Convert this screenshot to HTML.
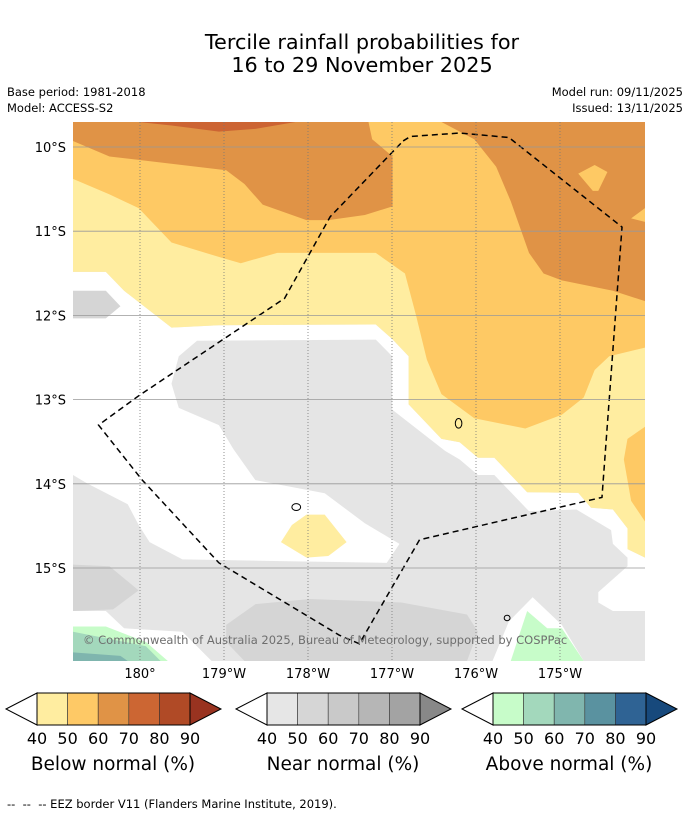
<!DOCTYPE html>
<html><head><meta charset="utf-8">
<style>
body{margin:0;background:#fff;font-family:"DejaVu Sans","Liberation Sans",sans-serif;}
#root{position:relative;width:690px;height:816px;overflow:hidden;}
.t{position:absolute;white-space:nowrap;color:#000;}
</style></head>
<body>
<div id="root">
<div class="t" style="left:0;width:724px;top:31px;text-align:center;font-size:20.8px;line-height:23px;">Tercile rainfall probabilities for<br>16 to 29 November 2025</div>
<div class="t" style="left:7px;top:85px;font-size:11.5px;">Base period: 1981-2018</div>
<div class="t" style="left:7px;top:101px;font-size:11.5px;">Model: ACCESS-S2</div>
<div class="t" style="right:7px;top:85px;font-size:11.5px;">Model run: 09/11/2025</div>
<div class="t" style="right:7px;top:101px;font-size:11.5px;">Issued: 13/11/2025</div>

<svg style="position:absolute;left:73px;top:122px;" width="572" height="539" viewBox="0 0 1568 1565" preserveAspectRatio="none">
<rect x="0" y="0" width="1568" height="1565" fill="#e5e5e5"/>
<polygon fill="#fff" points="0,435 90,435 140,490 270,597 400,590 830,588 875,630 920,680 920,820 1010,920 1060,930 1110,975 1155,975 1245,1075 1385,1077 1420,1120 1480,1125 1520,1180 1520,1240 1568,1265 1568,1420 1480,1420 1440,1395 1440,1365 1520,1290 1520,1265 1480,1225 1475,1185 1380,1125 1250,1130 1155,1025 1110,1025 1060,980 1020,955 875,835 875,680 830,632 340,635 290,680 270,760 290,830 400,880 440,950 500,1040 690,1078 800,1165 895,1225 860,1280 570,1275 300,1270 210,1220 180,1170 150,1110 40,1050 0,1025"/>
<polygon fill="#ffeda0" points="0,0 1568,0 1568,1265 1520,1240 1520,1180 1480,1125 1420,1120 1385,1077 1245,1075 1155,975 1110,975 1060,930 1010,920 920,820 920,680 875,630 830,588 400,590 270,597 140,490 90,435 0,435"/>
<polygon fill="#d5d5d5" points="0,490 90,490 130,535 90,570 0,570"/>
<polygon fill="#d5d5d5" points="0,1285 100,1290 180,1360 110,1415 0,1420"/>
<polygon fill="#d5d5d5" points="420,1460 500,1400 650,1385 900,1395 1080,1430 1110,1480 1080,1565 470,1565 420,1510"/>
<polygon fill="#fff" points="0,1420 90,1420 140,1470 300,1480 380,1565 0,1565"/>
<polygon fill="#c7fcc9" points="0,1465 90,1465 200,1510 260,1565 0,1565"/>
<polygon fill="#a3d8bc" points="0,1480 200,1522 240,1565 0,1565"/>
<polygon fill="#7fb5ae" points="0,1540 130,1550 150,1565 0,1565"/>
<polygon fill="#fff" points="1150,1565 1195,1450 1260,1380 1340,1460 1400,1565"/>
<polygon fill="#c7fcc9" points="1200,1565 1245,1420 1300,1470 1340,1470 1400,1565"/>
<polygon fill="#ffeda0" points="570,1220 600,1170 640,1140 690,1140 750,1220 700,1260 640,1265"/>
<polygon fill="#fec964" points="0,0 1568,0 1568,655 1470,680 1430,720 1400,800 1340,850 1240,890 1100,860 1010,790 970,690 940,560 910,440 830,380 560,380 460,410 410,395 270,350 180,250 100,210 0,165"/>
<polygon fill="#fec964" points="1568,885 1520,920 1510,980 1530,1100 1568,1160"/>
<polygon fill="#e09346" points="0,0 810,0 820,50 876,100 876,245 800,270 700,285 640,285 520,240 470,180 420,140 180,110 100,100 0,55"/>
<polygon fill="#e09346" points="1010,0 1568,0 1568,250 1530,280 1568,290 1568,520 1480,490 1340,460 1290,440 1250,380 1230,320 1200,230 1160,130 1100,50"/>
<polygon fill="#fec964" points="1385,150 1430,125 1465,145 1440,200 1425,200"/>
<polygon fill="#cc6433" points="180,0 270,10 400,28 500,20 610,0"/>
<polyline fill="none" stroke="#000" stroke-width="1.5" stroke-dasharray="6,4" vector-effect="non-scaling-stroke" points="905,55 925,42 1060,32 1195,45 1505,305 1450,1090 950,1213 785,1515 730,1490 400,1280 190,1040 70,880 180,795 580,512 705,275 905,55"/>
<ellipse cx="1057" cy="875" rx="9" ry="14" fill="none" stroke="#000" vector-effect="non-scaling-stroke"/>
<ellipse cx="612" cy="1118" rx="12" ry="10" fill="none" stroke="#000" vector-effect="non-scaling-stroke"/>
<ellipse cx="1190" cy="1440" rx="8" ry="8" fill="none" stroke="#000" vector-effect="non-scaling-stroke"/>
</svg>

<svg id="grid" style="position:absolute;left:0;top:0;" width="690" height="816"></svg>
<div class="t" style="left:83px;top:633px;font-size:11.5px;color:#6e6e6e;">© Commonwealth of Australia 2025, Bureau of Meteorology, supported by COSPPac</div>

<svg id="bars" style="position:absolute;left:0;top:680px;" width="690" height="100"></svg>
<div class="t" style="left:7px;top:797px;font-size:11.5px;">--&nbsp; --&nbsp; -- EEZ border V11 (Flanders Marine Institute, 2019).</div>
</div>
<script>
const lonLabels=["180°","179°W","178°W","177°W","176°W","175°W"];
const latLabels=["10°S","11°S","12°S","13°S","14°S","15°S"];
const tickLabels=["40","50","60","70","80","90"];
const belowColors=["#ffeda0","#fec966","#e09346","#cc6633","#b04a26","#993320"];
const nearColors=["#e6e6e6","#d6d6d6","#c9c9c9","#b6b6b6","#a3a3a3","#888888"];
const aboveColors=["#c7fcc9","#a3d8bc","#80b6ae","#5a92a0","#2f6394","#17497c"];
const barTitles=["Below normal (%)","Near normal (%)","Above normal (%)"];
const NS="http://www.w3.org/2000/svg";
const FF='DejaVu Sans, Liberation Sans, sans-serif';
const g=document.getElementById('grid');
const lonX=i=>140+i*84, latY=i=>147+i*84.2;
function mk(tag,attrs,parent){const e=document.createElementNS(NS,tag);for(const k in attrs)e.setAttribute(k,attrs[k]);parent.appendChild(e);return e;}
lonLabels.forEach((l,i)=>{
 const ln=mk('line',{x1:lonX(i),x2:lonX(i),y1:122,y2:660,stroke:'#777','stroke-width':0.8,'stroke-dasharray':'1,2'},g);
 
 
 const t=mk('text',{x:lonX(i),y:678,'text-anchor':'middle','font-size':13,'font-family':FF},g);
 t.textContent=l;
 
 
});
latLabels.forEach((l,i)=>{
 const ln=mk('line',{x1:73,x2:645,y1:latY(i),y2:latY(i),stroke:'#999','stroke-width':0.8},g);
 
 
 const t=mk('text',{x:66,y:latY(i)+5,'text-anchor':'end','font-size':13,'font-family':FF},g);
 t.textContent=l;
 
 
});
const b=document.getElementById('bars');
const starts=[37,267,493], cols=[belowColors,nearColors,aboveColors];
starts.forEach((x0,k)=>{
 const w=153/5, top=13, h=32, mid=top+h/2, x1=x0+153;
 const lt=mk('polygon',{points:`${x0-31},${mid} ${x0},${top} ${x0},${top+h}`,fill:'#fff',stroke:'#000','stroke-width':1},b);
 
 
 for(let i=0;i<5;i++){
  const r=mk('rect',{x:x0+i*w,y:top,width:w,height:h,fill:cols[k][i],stroke:'#333','stroke-width':0.6},b);
  
  
 }
 const rt=mk('polygon',{points:`${x1},${top} ${x1+31},${mid} ${x1},${top+h}`,fill:cols[k][5],stroke:'#000','stroke-width':1},b);
 
 
 mk('rect',{x:x0,y:top,width:153,height:h,fill:'none',stroke:'#000','stroke-width':1},b);
 tickLabels.forEach((tl,i)=>{
  const t=mk('text',{x:x0+i*w,y:64,'text-anchor':'middle','font-size':16,'font-family':FF},b);
  t.textContent=tl;
  
  
 });
 const tt=mk('text',{x:x0+76,y:90,'text-anchor':'middle','font-size':18.5,'font-family':FF},b);
 tt.textContent=barTitles[k];
 
 
});
</script>
</body></html>
